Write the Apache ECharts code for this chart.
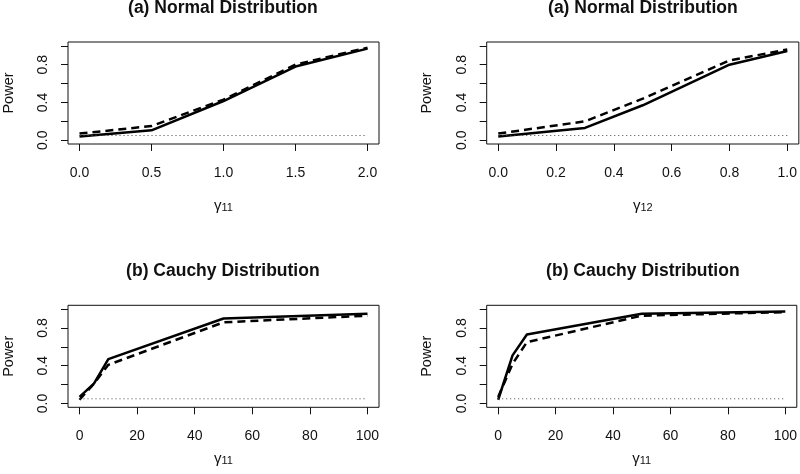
<!DOCTYPE html>
<html>
<head>
<meta charset="utf-8">
<script src="https://cdn.jsdelivr.net/npm/echarts@6/dist/echarts.min.js"></script>
<style>
  html, body { margin: 0; padding: 0; background: #fff; }
  #chart { width: 800px; height: 474px; }
</style>
</head>
<body>
<div id="chart"></div>
<script>
// ---- data ----
const titlesTop = ['(a) Normal Distribution', '(a) Normal Distribution'];
const titlesBottom = ['(b) Cauchy Distribution', '(b) Cauchy Distribution'];
const xNames = ['11', '12', '11', '11'];

const xNormal11 = [0, 0.5, 1.0, 1.5, 2.0];
const powerN11Solid = [0.04, 0.105, 0.415, 0.78, 0.97];
const powerN11Dashed = [0.07, 0.15, 0.43, 0.80, 0.98];

const xNormal12 = [0, 0.3, 0.5, 0.8, 1.0];
const powerN12Solid = [0.04, 0.13, 0.37, 0.80, 0.945];
const powerN12Dashed = [0.07, 0.20, 0.44, 0.845, 0.96];

const xCauchy = [0, 5, 10, 50, 100];
const powerC1Solid = [0.07, 0.21, 0.47, 0.90, 0.95];
const powerC1Dashed = [0.04, 0.21, 0.41, 0.86, 0.93];
const powerC2Solid = [0.04, 0.51, 0.73, 0.95, 0.975];
const powerC2Dashed = [0.07, 0.42, 0.65, 0.93, 0.968];

const nominalLevel = 0.05;

const yTicks = [0, 0.2, 0.4, 0.6, 0.8, 1.0];
const yTickLabels = [0, 0.4, 0.8];
const xTicksN11 = [0, 0.5, 1.0, 1.5, 2.0];
const xTicksN12 = [0, 0.2, 0.4, 0.6, 0.8, 1.0];
const xTicksC = [0, 20, 40, 60, 80, 100];

// ---- layout ----
const FONT = '"Liberation Sans", Arial, Helvetica, sans-serif';
const gridsPos = [
  { left: 66.7, top: 42, width: 312.3, height: 102 },
  { left: 486.7, top: 42, width: 312.3, height: 102 },
  { left: 66.7, top: 305.3, width: 312.3, height: 102 },
  { left: 486.7, top: 305.3, width: 312.3, height: 102 }
];

function zip(xs, ys) { return xs.map((x, i) => [x, ys[i]]); }

const panels = [
  { xs: xNormal11, s: powerN11Solid, d: powerN11Dashed, ticks: xTicksN11, dec: 1, nameGap: 51 },
  { xs: xNormal12, s: powerN12Solid, d: powerN12Dashed, ticks: xTicksN12, dec: 1, nameGap: 51 },
  { xs: xCauchy, s: powerC1Solid, d: powerC1Dashed, ticks: xTicksC, dec: 0, nameGap: 41 },
  { xs: xCauchy, s: powerC2Solid, d: powerC2Dashed, ticks: xTicksC, dec: 0, nameGap: 41 }
];

const grid = gridsPos.map(g => Object.assign({
  show: true, borderColor: '#111', borderWidth: 1, backgroundColor: 'transparent'
}, g));

const xAxis = panels.map((p, i) => {
  const lo = p.ticks[0], hi = p.ticks[p.ticks.length - 1];
  const pad = (hi - lo) * 0.04;
  return {
    type: 'value', gridIndex: i, min: lo - pad, max: hi + pad,
    axisLine: { show: false, onZero: false },
    splitLine: { show: false },
    axisTick: { show: true, inside: false, length: 7, lineStyle: { color: '#111', width: 1 }, customValues: p.ticks },
    axisLabel: {
      customValues: p.ticks, margin: 22, fontFamily: FONT, fontSize: 14, color: '#111',
      formatter: v => Number(v).toFixed(p.dec)
    },
    name: '{g|γ}{s|' + xNames[i] + '}',
    nameLocation: 'middle', nameGap: p.nameGap,
    nameTextStyle: {
      rich: {
        g: { fontFamily: FONT, fontSize: 15, color: '#111', lineHeight: 18, verticalAlign: 'bottom' },
        s: { fontFamily: FONT, fontSize: 11, color: '#111', lineHeight: 11, verticalAlign: 'bottom' }
      }
    }
  };
});

const yAxis = panels.map((p, i) => ({
  type: 'value', gridIndex: i, min: -0.04, max: 1.04,
  axisLine: { show: false, onZero: false },
  splitLine: { show: false },
  axisTick: { show: true, inside: false, length: 7, lineStyle: { color: '#111', width: 1 }, customValues: yTicks },
  axisLabel: {
    customValues: yTickLabels, rotate: 90, margin: 18, fontFamily: FONT, fontSize: 14, color: '#111',
    formatter: v => Number(v).toFixed(1)
  },
  name: 'Power', nameLocation: 'middle', nameGap: 52,
  nameTextStyle: { fontFamily: FONT, fontSize: 14.5, color: '#111' }
}));

const series = [];
panels.forEach((p, i) => {
  series.push({
    type: 'line', xAxisIndex: i, yAxisIndex: i, data: zip(p.xs, p.s),
    symbol: 'none', lineStyle: { color: '#000', width: 2.5, type: 'solid' }, silent: true
  });
  series.push({
    type: 'line', xAxisIndex: i, yAxisIndex: i, data: zip(p.xs, p.d),
    symbol: 'none', lineStyle: { color: '#000', width: 2.5, type: [8, 5] }, silent: true
  });
  const x0 = p.ticks[0], x1 = p.ticks[p.ticks.length - 1];
  series.push({
    type: 'line', xAxisIndex: i, yAxisIndex: i, data: [[x0, nominalLevel], [x1, nominalLevel]],
    symbol: 'none', lineStyle: { color: '#444', width: 1, type: [1, 3] }, silent: true
  });
});

const titleTexts = titlesTop.concat(titlesBottom);
const title = titleTexts.map((t, i) => ({
  text: t,
  left: gridsPos[i].left + gridsPos[i].width / 2,
  top: i < 2 ? -1 : 262,
  textAlign: 'center',
  padding: 0,
  textStyle: { fontFamily: FONT, fontSize: 17.5, fontWeight: 'bold', color: '#111' }
}));

const chart = echarts.init(document.getElementById('chart'), null, { renderer: 'canvas' });
chart.setOption({
  animation: false,
  backgroundColor: '#fff',
  title, grid, xAxis, yAxis, series
});
</script>
</body>
</html>
